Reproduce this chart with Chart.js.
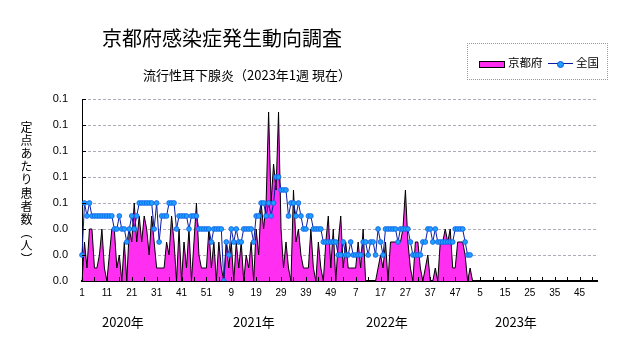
<!DOCTYPE html>
<html>
<head>
<meta charset="utf-8">
<script src="https://cdn.jsdelivr.net/npm/chart.js@4.4.0/dist/chart.umd.min.js"></script>
<style>
  body { margin: 0; background: #fff; font-family: "Noto Sans CJK JP", sans-serif; }
  #wrap { position: relative; width: 631px; height: 347px; overflow: hidden; }
  canvas { position: absolute; left: 0; top: 0; }
  .txt { position: absolute; white-space: nowrap; color: #000; line-height: 1; }
  #title { left: 102px; top: 28px; font-size: 20px; }
  #subtitle { left: 143px; top: 68px; font-size: 13px; }
  #ytitle { left: 20px; top: 121px; font-size: 12px; writing-mode: vertical-rl; letter-spacing: 1.2px; }
  .year { top: 315px; font-size: 13px; }
  #legend { position: absolute; left: 467px; top: 43px; width: 141px; height: 37px; border: 1px dotted #999; box-sizing: border-box; font-size: 11.5px; }
  #legend .sw1 { position: absolute; left: 11px; top: 17px; width: 24px; height: 5px; background: #ff2ef0; border: 1px solid #000; }
  #legend .l1 { position: absolute; left: 40px; top: 13px; }
  #legend .ln { position: absolute; left: 80px; top: 19px; width: 25px; height: 1px; background: #0a1aa0; }
  #legend .dot { position: absolute; left: 89px; top: 17px; width: 5px; height: 5px; border-radius: 50%; background: #1ea0ff; border: 0.5px solid #1050e0; }
  #legend .l2 { position: absolute; left: 108px; top: 13px; }
</style>
</head>
<body>
<div id="wrap">
  <canvas id="chart" width="631" height="347"></canvas>
  <div class="txt" id="title">京都府感染症発生動向調査</div>
  <div class="txt" id="subtitle">流行性耳下腺炎（2023年1週 現在）</div>
  <div class="txt" id="ytitle">定点あたり患者数（人）</div>
  <div class="txt year" style="left:102px">2020年</div>
  <div class="txt year" style="left:233px">2021年</div>
  <div class="txt year" style="left:366px">2022年</div>
  <div class="txt year" style="left:495px">2023年</div>
  <div id="legend">
    <div class="sw1"></div><div class="txt l1">京都府</div>
    <div class="ln"></div><div class="dot"></div><div class="txt l2">全国</div>
  </div>
</div>
<script>
// ===== DATA =====
const years = [2020, 2021, 2022, 2023];
const weeksPerYear = 52;
const yTicks = [0, 0.02, 0.04, 0.06, 0.08, 0.10, 0.12, 0.14];

// 京都府 (2020年1週 ～ 2023年1週ごろ)
const kyoto = [
  0, 0.03, 0.01, 0.04, 0.04, 0.01, 0.01, 0.02, 0.04, 0.01,
  0, 0.02, 0.04, 0.04, 0.01, 0.02, 0, 0.03, 0, 0.04,
  0.03, 0.06, 0.03, 0.05, 0.03, 0.05, 0.04, 0.02, 0.05, 0.03,
  0.01, 0.01, 0.01, 0.01, 0.03, 0.02, 0.05, 0.03, 0, 0.04,
  0, 0.03, 0.01, 0.04, 0, 0.03, 0.06, 0.02, 0.01, 0.01,
  0.01, 0.04, 0.01, 0.03, 0, 0.03, 0.01, 0, 0.03, 0.01,
  0.03, 0, 0.03, 0.01, 0.03, 0, 0.02, 0.01, 0.03, 0,
  0.04, 0.02, 0.06, 0.04, 0.06, 0.13, 0.06, 0.09, 0.07, 0.13,
  0.04, 0.01, 0.03, 0.01, 0, 0.07, 0.03, 0.04, 0.02, 0.01,
  0.01, 0.01, 0.04, 0.01, 0, 0.03, 0.01, 0, 0.03, 0.05,
  0.01, 0.04, 0, 0.03, 0.05, 0.01, 0.03, 0.01, 0.01, 0.01,
  0.01, 0.03, 0.01, 0.04, 0, 0, 0, 0, 0, 0.01,
  0.02, 0.01, 0.03, 0, 0.03, 0.03, 0.03, 0.03, 0.03, 0.04,
  0.07, 0.03, 0.01, 0, 0.03, 0.03, 0.01, 0, 0.01, 0.02,
  0, 0, 0.01, 0, 0.03, 0.03, 0.04, 0.03, 0.04, 0.01,
  0.01, 0.03, 0.03, 0.03, 0.02, 0, 0.01, 0
];

// 全国
const national = [
  0.02, 0.06, 0.05, 0.06, 0.05, 0.05, 0.05, 0.05, 0.05, 0.05,
  0.05, 0.05, 0.05, 0.04, 0.04, 0.05, 0.04, 0.04, 0.03, 0.04,
  0.05, 0.04, 0.05, 0.06, 0.06, 0.06, 0.06, 0.06, 0.06, 0.04,
  0.06, 0.03, 0.05, 0.05, 0.05, 0.06, 0.06, 0.06, 0.04, 0.05,
  0.05, 0.05, 0.05, 0.04, 0.05, 0.05, 0.05, 0.04, 0.04, 0.04,
  0.04, 0.04, 0.03, 0.04, 0.04, 0.04, 0.04, 0, 0.03, 0.02,
  0.04, 0.03, 0.04, 0.03, 0.03, 0.04, 0.04, 0.04, 0.04, 0.03,
  0.05, 0.05, 0.06, 0.06, 0.05, 0.06, 0.05, 0.06, 0.08, 0.08,
  0.07, 0.07, 0.07, 0.05, 0.06, 0.06, 0.05, 0.06, 0.05, 0.04,
  0.04, 0.05, 0.05, 0.04, 0.04, 0.04, 0.04, 0.03, 0.03, 0.03,
  0.03, 0.03, 0.03, 0.02, 0.02, 0.03, 0.02, 0.02, 0.03, 0.02,
  0.02, 0.02, 0.02, 0.03, 0.03, 0.02, 0.03, 0.03, 0.02, 0.04,
  0.03, 0.02, 0.04, 0.04, 0.04, 0.04, 0.04, 0.03, 0.04, 0.04,
  0.04, 0.04, 0.03, 0.02, 0.02, 0.02, 0.02, 0.03, 0.03, 0.04,
  0.04, 0.03, 0.04, 0.03, 0.03, 0.03, 0.03, 0.03, 0.03, 0.03,
  0.04, 0.04, 0.04, 0.04, 0.03, 0.02, 0.02
];

// 週ラベル (各年 1～52週)
const weekLabels = [];
years.forEach(() => {
  for (let w = 1; w <= weeksPerYear; w++) weekLabels.push(w);
});

// ===== 内向きの目盛り =====
const innerTicks = {
  id: "innerTicks",
  afterDraw(chart) {
    const { ctx, chartArea, scales } = chart;
    ctx.save();
    ctx.strokeStyle = "#000";
    ctx.lineWidth = 1;
    ctx.beginPath();
    for (let i = 0; i < weekLabels.length; i += 5) {
      const x = Math.round(scales.x.getPixelForValue(i)) + 0.5;
      ctx.moveTo(x, chartArea.bottom);
      ctx.lineTo(x, chartArea.bottom - 4);
    }
    yTicks.forEach(v => {
      const y = Math.round(scales.y.getPixelForValue(v)) + 0.5;
      ctx.moveTo(chartArea.left, y);
      ctx.lineTo(chartArea.left + 4, y);
    });
    ctx.stroke();
    ctx.restore();
  }
};

const ctx = document.getElementById("chart").getContext("2d");
new Chart(ctx, {
  type: "line",
  data: {
    labels: weekLabels,
    datasets: [
      {
        label: "全国",
        data: national,
        order: 0,
        borderColor: "#0a1aa0",
        borderWidth: 1,
        pointRadius: 2.4,
        pointBackgroundColor: "#1ea0ff",
        pointBorderColor: "#1060e8",
        pointBorderWidth: 0.8,
        tension: 0,
        fill: false
      },
      {
        label: "京都府",
        data: kyoto,
        order: 1,
        borderColor: "#000",
        borderWidth: 1,
        backgroundColor: "#ff2ef0",
        pointRadius: 0,
        tension: 0,
        fill: "origin"
      }
    ]
  },
  options: {
    responsive: false,
    devicePixelRatio: 1,
    animation: false,
    layout: { padding: { left: 0, top: 99, right: 34, bottom: 0 } },
    plugins: {
      legend: { display: false },
      tooltip: { enabled: false }
    },
    scales: {
      x: {
        type: "category",
        offset: false,
        afterFit: s => { s.height = 66; },
        grid: { display: false, drawTicks: false },
        border: { display: true, color: "#000", width: 2 },
        ticks: {
          autoSkip: false,
          maxRotation: 0,
          padding: 6,
          color: "#000",
          font: { family: "Liberation Sans", size: 10 },
          callback: (v, i) => (i % 10 === 0 ? String(weekLabels[i]) : "")
        }
      },
      y: {
        min: 0,
        max: 0.14,
        afterFit: s => { s.width = 82; },
        afterBuildTicks: s => { s.ticks = yTicks.map(v => ({ value: v })); },
        grid: {
          color: "#b2a9bb",
          lineWidth: 1,
          drawTicks: false
        },
        border: { display: true, color: "#000", width: 1, dash: [3, 2] },
        ticks: {
          padding: 14,
          color: "#000",
          font: { family: "Liberation Sans", size: 11 },
          callback: v => v.toFixed(1)
        }
      }
    }
  },
  plugins: [innerTicks]
});
</script>
</body>
</html>
